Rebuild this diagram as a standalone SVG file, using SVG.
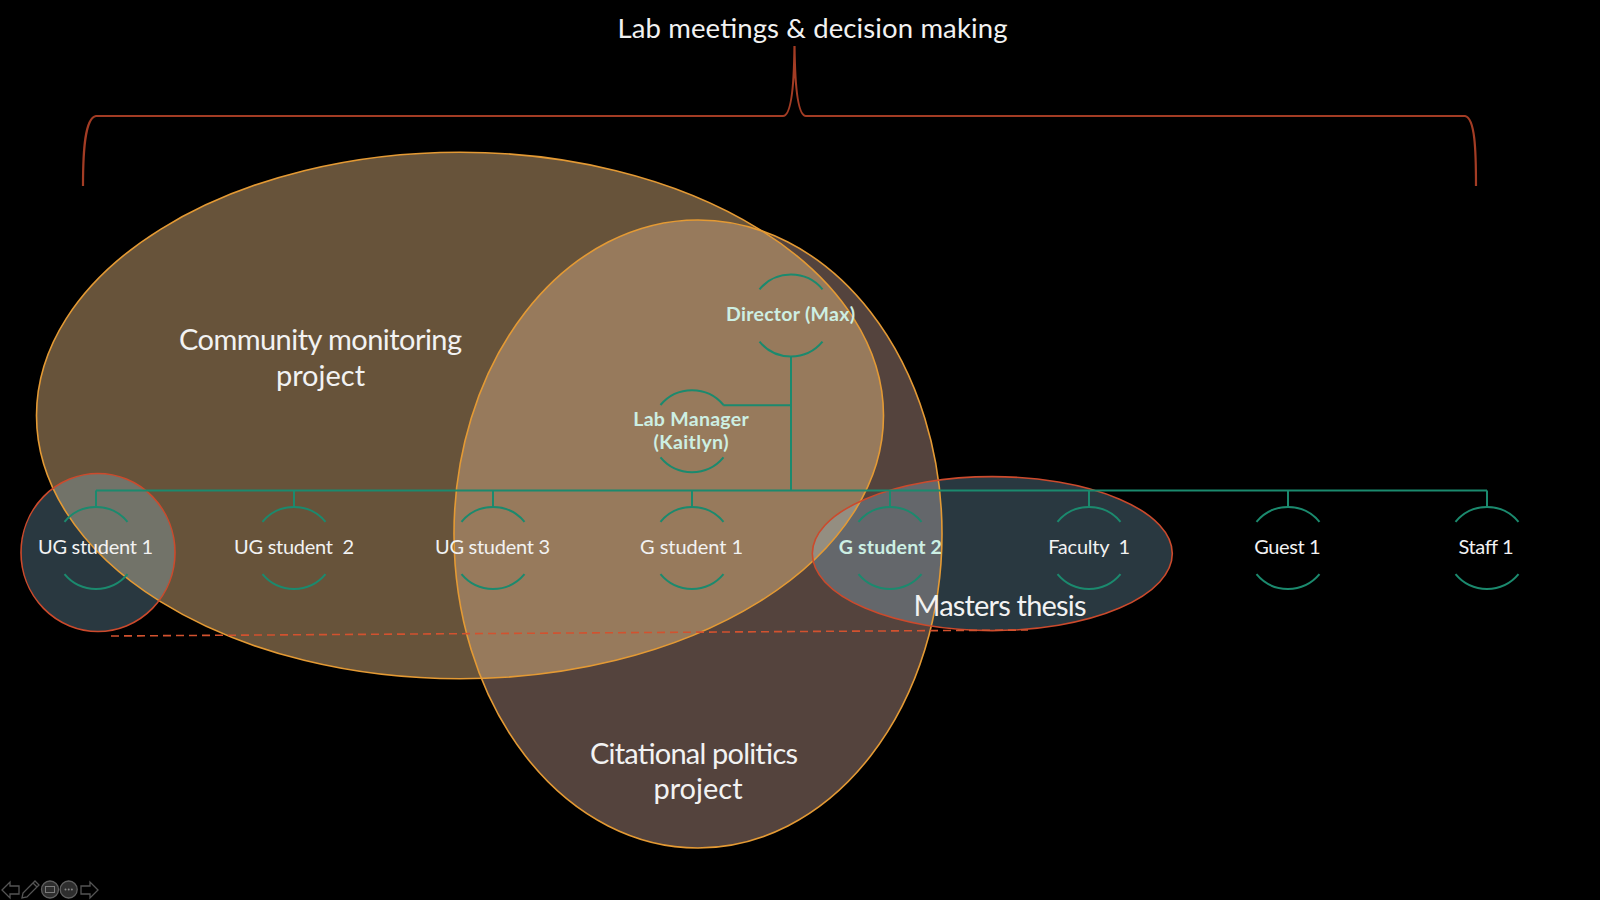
<svg xmlns="http://www.w3.org/2000/svg" xmlns:xlink="http://www.w3.org/1999/xlink" width="1600" height="900" viewBox="0 0 1600 900">
  <style>
    .txt { font-family: Lato, "Open Sans", "Liberation Sans", sans-serif; fill: #F2F2F2; text-anchor: middle; }
    .big { font-size: 29px; }
    .node { font-size: 20px; }
    .bold { font-weight: bold; fill: #CDEFE3; font-size: 19.5px; }
    .proj { stroke: #E49A34; stroke-width: 1.6; fill: none; }
    .grp { stroke: #CC4A2C; stroke-width: 1.6; fill: none; }
    .teal { stroke: #1B8A6E; stroke-width: 2; fill: none; }
    .brace { stroke: #A33C24; stroke-width: 2.2; fill: none; }
    .icon { stroke: #6a6a6a; stroke-width: 1.3; fill: none; }
  </style>
  <defs>
    <clipPath id="clipCommunity">
      <ellipse cx="460" cy="415.5" rx="423.5" ry="263.3"/>
    </clipPath>
    <g id="nodeArc">
      <path d="M-31.5,-26.2 A41,41 0 0 1 31.5,-26.2 M-31.5,26.2 A41,41 0 0 0 31.5,26.2"/>
    </g>
  </defs>

  <rect x="0" y="0" width="1600" height="900" fill="#000000"/>

  <!-- Title and brace -->
  <g id="title">
    <text class="txt" x="812.5" y="37.5" font-size="27.5" textLength="390">Lab meetings &amp; decision making</text>
    <path class="brace" d="M83,186 C83,150 85,118 96,116 L783,116 C790,116 794,95 794.5,46 C795,95 799,116 806,116 L1465,116 C1475,118 1476,150 1476,186"/>
  </g>

  <!-- Project areas -->
  <g id="community-monitoring-project">
    <ellipse cx="460" cy="415.5" rx="423.5" ry="263.3" fill="#67533A"/>
  </g>
  <g id="citational-politics-project">
    <ellipse cx="698" cy="534" rx="244" ry="314" fill="#54433D"/>
    <ellipse cx="698" cy="534" rx="244" ry="314" fill="#977A5C" clip-path="url(#clipCommunity)"/>
  </g>
  <g id="masters-thesis">
    <ellipse cx="992.3" cy="553.6" rx="180" ry="77" fill="#8CC2DC" fill-opacity="0.29"/>
  </g>
  <g id="ug-student-1-group">
    <ellipse cx="98" cy="552.5" rx="77" ry="79" fill="#8CC2DC" fill-opacity="0.29"/>
  </g>

  <!-- outlines -->
  <g id="outlines">
    <ellipse class="proj" cx="460" cy="415.5" rx="423.5" ry="263.3"/>
    <ellipse class="proj" cx="698" cy="534" rx="244" ry="314"/>
    <ellipse class="grp" cx="992.3" cy="553.6" rx="180" ry="77"/>
    <ellipse class="grp" cx="98" cy="552.5" rx="77" ry="79"/>
  </g>

  <!-- area labels -->
  <g id="area-labels">
    <text class="txt big" x="320.5" y="349.5" textLength="283">Community monitoring</text>
    <text class="txt big" x="320.5" y="385.5">project</text>
    <text class="txt big" x="694" y="763.5" textLength="208">Citational politics</text>
    <text class="txt big" x="698" y="799">project</text>
    <text class="txt big" x="1000" y="616" textLength="173">Masters thesis</text>
  </g>

  <!-- connectors -->
  <g id="connectors" class="teal">
    <path d="M96,490.5 H1487"/>
    <path d="M96,490.5 V507 M294,490.5 V507 M493,490.5 V507 M692,490.5 V507 M890,490.5 V507 M1089,490.5 V507 M1288,490.5 V507 M1487,490.5 V507"/>
    <path d="M791,356.5 V490.5"/>
    <path d="M723.3,405.2 H791"/>
    <path d="M111,636 L1028,630" stroke="#D2522F" stroke-width="1.6" stroke-dasharray="8 5"/>
  </g>

  <!-- nodes -->
  <g id="node-director">
    <use xlink:href="#nodeArc" href="#nodeArc" class="teal" x="791" y="315.5"/>
    <text class="txt node bold" x="790.5" y="321" textLength="129">Director (Max)</text>
  </g>
  <g id="node-lab-manager">
    <use xlink:href="#nodeArc" href="#nodeArc" class="teal" x="692" y="431.2"/>
    <text class="txt node bold" x="691" y="425.7" textLength="115.5">Lab Manager</text>
    <text class="txt node bold" x="691" y="448.7" textLength="75">(Kaitlyn)</text>
  </g>
  <g id="node-ug-student-1">
    <use xlink:href="#nodeArc" href="#nodeArc" class="teal" x="96" y="548"/>
    <text class="txt node" x="95.5" y="554.3" textLength="115">UG student 1</text>
  </g>
  <g id="node-ug-student-2">
    <use xlink:href="#nodeArc" href="#nodeArc" class="teal" x="294" y="548"/>
    <text class="txt node" x="294" y="554.3" textLength="120" xml:space="preserve">UG student  2</text>
  </g>
  <g id="node-ug-student-3">
    <use xlink:href="#nodeArc" href="#nodeArc" class="teal" x="493" y="548"/>
    <text class="txt node" x="492.5" y="554.3" textLength="115">UG student 3</text>
  </g>
  <g id="node-g-student-1">
    <use xlink:href="#nodeArc" href="#nodeArc" class="teal" x="692" y="548"/>
    <text class="txt node" x="691.5" y="554.3" textLength="103">G student 1</text>
  </g>
  <g id="node-g-student-2">
    <use xlink:href="#nodeArc" href="#nodeArc" class="teal" x="890" y="548"/>
    <text class="txt node bold" x="890.3" y="554.3" textLength="103">G student 2</text>
  </g>
  <g id="node-faculty-1">
    <use xlink:href="#nodeArc" href="#nodeArc" class="teal" x="1089" y="548"/>
    <text class="txt node" x="1089.2" y="554.3" textLength="82" xml:space="preserve">Faculty  1</text>
  </g>
  <g id="node-guest-1">
    <use xlink:href="#nodeArc" href="#nodeArc" class="teal" x="1288" y="548"/>
    <text class="txt node" x="1287.4" y="554.3" textLength="66.5">Guest 1</text>
  </g>
  <g id="node-staff-1">
    <use xlink:href="#nodeArc" href="#nodeArc" class="teal" x="1487" y="548"/>
    <text class="txt node" x="1486" y="554.3" textLength="55">Staff 1</text>
  </g>

  <!-- slideshow controls -->
  <g id="slide-controls" opacity="0.8">
    <polygon class="icon" points="2,890 10,882 10,886 19,886 19,894 10,894 10,898"/>
    <path class="icon" d="M22,898 L23,893 L35,881 L39,885 L27,897 Z M33,883 L37,887"/>
    <circle cx="50" cy="889.5" r="8.5" fill="#3a3a3a" stroke="#777" stroke-width="1.3"/>
    <rect x="45.5" y="886.5" width="9" height="6" fill="none" stroke="#999" stroke-width="1"/>
    <circle cx="68.7" cy="889.5" r="8.5" fill="#3a3a3a" stroke="#777" stroke-width="1.3"/>
    <circle cx="65.5" cy="889.5" r="1" fill="#aaa"/>
    <circle cx="68.7" cy="889.5" r="1" fill="#aaa"/>
    <circle cx="71.9" cy="889.5" r="1" fill="#aaa"/>
    <polygon class="icon" points="98,890 90,882 90,886 81,886 81,894 90,894 90,898"/>
  </g>
</svg>
